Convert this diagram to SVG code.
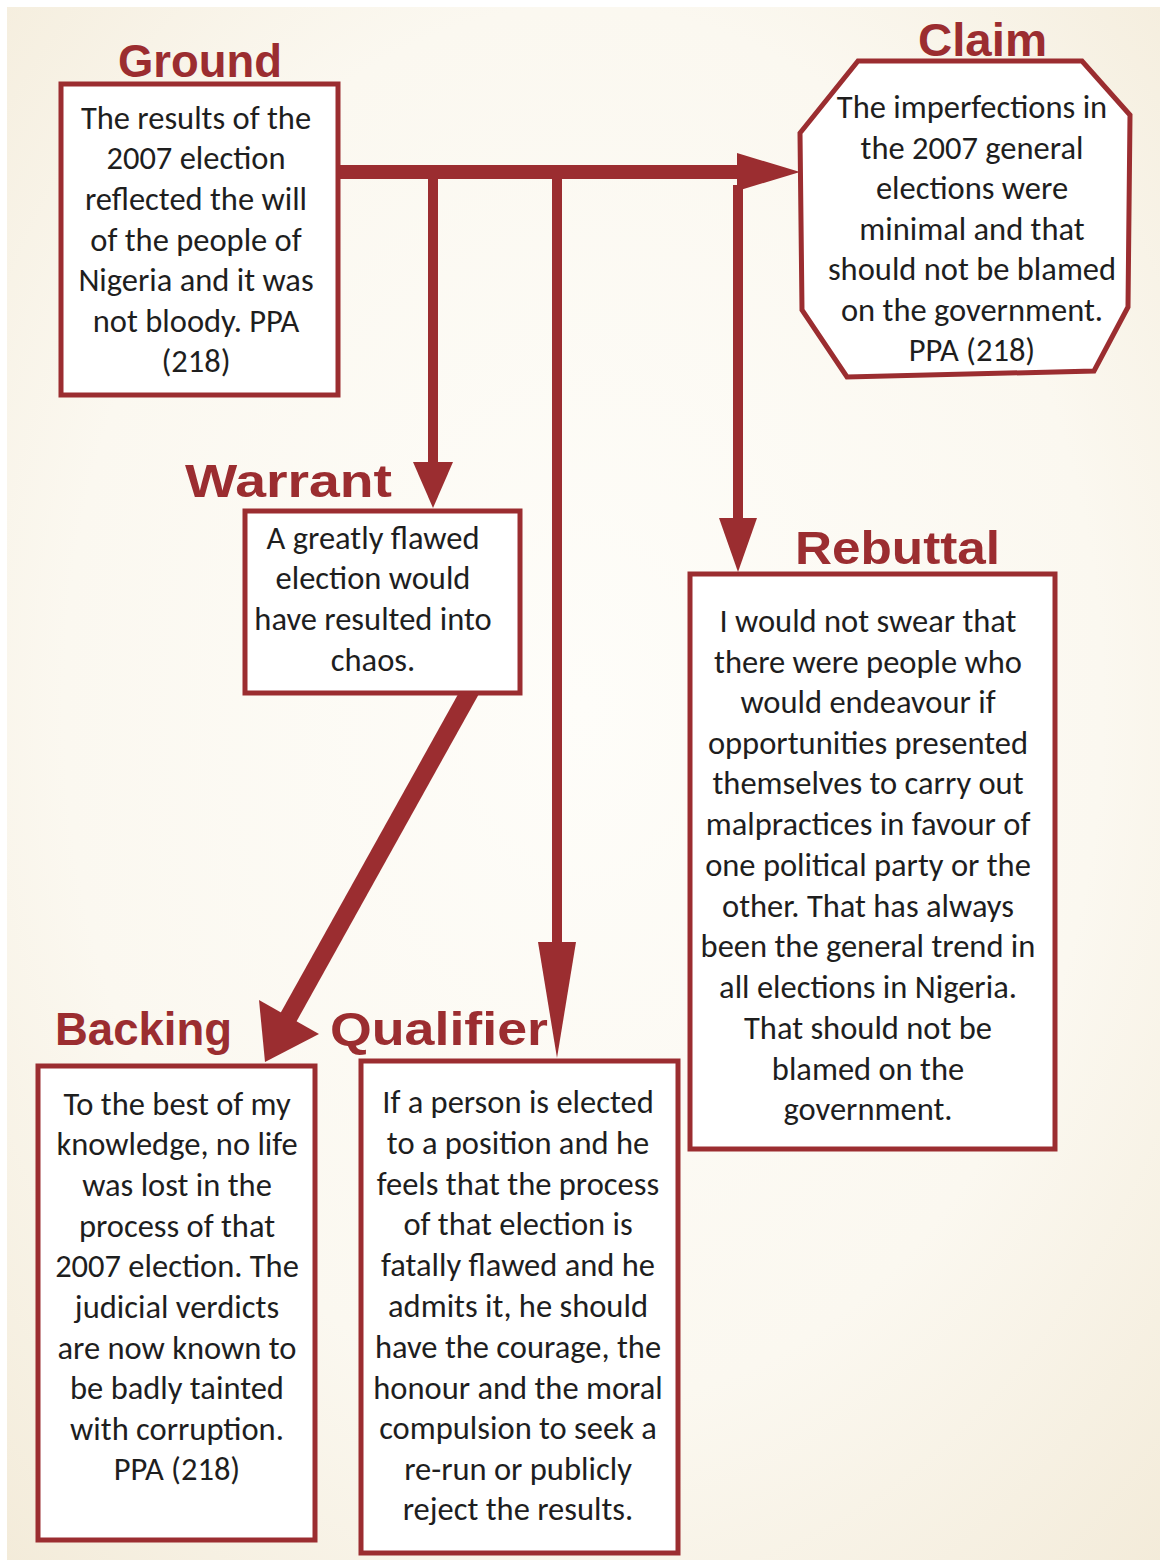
<svg xmlns="http://www.w3.org/2000/svg" width="1160" height="1560" viewBox="0 0 1160 1560">
<defs>
<radialGradient id="bg" cx="0.5" cy="0.45" r="0.75">
<stop offset="0" stop-color="#fefdf9"/>
<stop offset="0.6" stop-color="#fbf8f0"/>
<stop offset="1" stop-color="#f3ebd9"/>
</radialGradient>
<style>
.box{fill:#ffffff;stroke:#9b2d30;stroke-width:5}
.hdr{font-family:"Comic Sans MS","Liberation Sans",Arial,sans-serif;font-weight:bold;font-size:46px;fill:#9b2d30}
.t{font-family:Calibri,"Liberation Sans",Arial,sans-serif;font-size:32.5px;fill:#1e1e1e;text-anchor:middle}
.ar{fill:#9b2d30}
.ln{stroke:#9b2d30;fill:none}
</style>
</defs>
<rect x="0" y="0" width="1160" height="1560" fill="#ffffff"/>
<rect x="7" y="7" width="1153" height="1553" fill="url(#bg)"/>

<g id="connectors">
<line class="ln" x1="338" y1="172" x2="745" y2="172" stroke-width="14"/>
<polygon class="ar" points="737,153 800,172 737,191"/>
<line class="ln" x1="433" y1="179" x2="433" y2="465" stroke-width="10"/>
<polygon class="ar" points="413,462 453,462 433,508"/>
<line class="ln" x1="557" y1="179" x2="557" y2="945" stroke-width="10"/>
<polygon class="ar" points="538,942 576,942 557,1058"/>
<line class="ln" x1="738" y1="185" x2="738" y2="522" stroke-width="10"/>
<polygon class="ar" points="719,518 757,518 738,572"/>
<line class="ln" x1="473" y1="686" x2="287" y2="1020" stroke-width="18"/>
<polygon class="ar" points="259,1000 319,1034 265,1062"/>
</g>

<g id="ground">
<text class="hdr" x="118" y="77" textLength="164" lengthAdjust="spacingAndGlyphs">Ground</text>
<rect class="box" x="61" y="84" width="277" height="311"/>
<text class="t" x="196" y="129">The results of the</text>
<text class="t" x="196" y="169">2007 election</text>
<text class="t" x="196" y="210">reflected the will</text>
<text class="t" x="196" y="251">of the people of</text>
<text class="t" x="196" y="291">Nigeria and it was</text>
<text class="t" x="196" y="332">not bloody.  PPA</text>
<text class="t" x="196" y="372">(218)</text>
</g>

<g id="claim">
<text class="hdr" x="918" y="56" textLength="129" lengthAdjust="spacingAndGlyphs">Claim</text>
<polygon class="box" points="858,61 1082,61 1130,115 1128,307 1094,371 847,377 802,310 800,133"/>
<text class="t" x="972" y="118">The imperfections in</text>
<text class="t" x="972" y="159">the 2007 general</text>
<text class="t" x="972" y="199">elections were</text>
<text class="t" x="972" y="240">minimal and that</text>
<text class="t" x="972" y="280">should not be blamed</text>
<text class="t" x="972" y="321">on the government.</text>
<text class="t" x="972" y="361">PPA (218)</text>
</g>

<g id="warrant">
<text class="hdr" x="185" y="497" textLength="207" lengthAdjust="spacingAndGlyphs">Warrant</text>
<rect class="box" x="245" y="511" width="275" height="182"/>
<text class="t" x="373" y="549">A greatly flawed</text>
<text class="t" x="373" y="589">election would</text>
<text class="t" x="373" y="630">have resulted into</text>
<text class="t" x="373" y="671">chaos.</text>
</g>

<g id="rebuttal">
<text class="hdr" x="795" y="564" textLength="205" lengthAdjust="spacingAndGlyphs">Rebuttal</text>
<rect class="box" x="690" y="574" width="365" height="575"/>
<text class="t" x="868" y="632">I would not swear that</text>
<text class="t" x="868" y="673">there were people who</text>
<text class="t" x="868" y="713">would endeavour if</text>
<text class="t" x="868" y="754">opportunities presented</text>
<text class="t" x="868" y="794">themselves to carry out</text>
<text class="t" x="868" y="835">malpractices in favour of</text>
<text class="t" x="868" y="876">one political party or the</text>
<text class="t" x="868" y="917">other. That has always</text>
<text class="t" x="868" y="957">been the general trend in</text>
<text class="t" x="868" y="998">all elections in Nigeria.</text>
<text class="t" x="868" y="1039">That should not be</text>
<text class="t" x="868" y="1080">blamed on the</text>
<text class="t" x="868" y="1120">government.</text>
</g>

<g id="backing">
<text class="hdr" x="55" y="1045" textLength="177" lengthAdjust="spacingAndGlyphs">Backing</text>
<rect class="box" x="38" y="1066" width="277" height="474"/>
<text class="t" x="177" y="1115">To the best of my</text>
<text class="t" x="177" y="1155">knowledge, no life</text>
<text class="t" x="177" y="1196">was lost in the</text>
<text class="t" x="177" y="1237">process of that</text>
<text class="t" x="177" y="1277">2007 election. The</text>
<text class="t" x="177" y="1318">judicial verdicts</text>
<text class="t" x="177" y="1359">are now known to</text>
<text class="t" x="177" y="1399">be badly tainted</text>
<text class="t" x="177" y="1440">with corruption.</text>
<text class="t" x="177" y="1480">PPA (218)</text>
</g>

<g id="qualifier">
<text class="hdr" x="330" y="1045" textLength="218" lengthAdjust="spacingAndGlyphs">Qualifier</text>
<rect class="box" x="361" y="1061" width="317" height="492"/>
<text class="t" x="518" y="1113">If a person is elected</text>
<text class="t" x="518" y="1154">to a position and he</text>
<text class="t" x="518" y="1195">feels that the process</text>
<text class="t" x="518" y="1235">of that election is</text>
<text class="t" x="518" y="1276">fatally flawed and he</text>
<text class="t" x="518" y="1317">admits it, he should</text>
<text class="t" x="518" y="1358">have the courage, the</text>
<text class="t" x="518" y="1399">honour and the moral</text>
<text class="t" x="518" y="1439">compulsion to seek a</text>
<text class="t" x="518" y="1480">re-run or publicly</text>
<text class="t" x="518" y="1520">reject the results.</text>
</g>
</svg>
